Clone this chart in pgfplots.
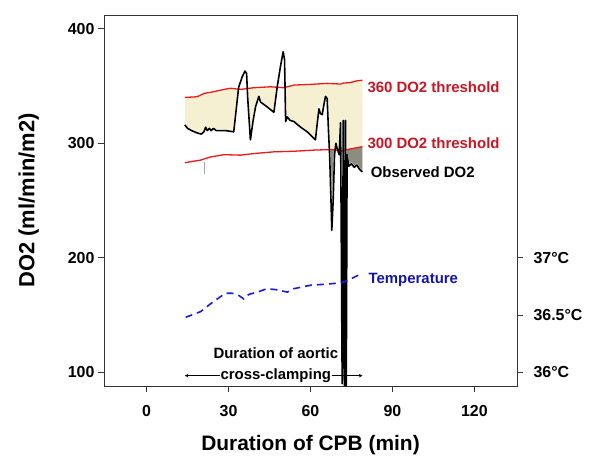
\documentclass[border=0pt]{standalone}
\usepackage{fontspec}
\setmainfont{Liberation Sans}
\usepackage{pgfplots}
\usepackage{pgfplotstable}
\pgfplotsset{compat=1.18}

\definecolor{cream}{RGB}{245,240,210}
\definecolor{greyfill}{RGB}{140,140,128}
\definecolor{thrred}{RGB}{235,25,25}
\definecolor{labred}{RGB}{205,20,35}
\definecolor{tblue}{RGB}{25,25,235}
\definecolor{labblue}{RGB}{20,20,170}

% Observed DO2 (ml/min/m2) vs duration of CPB (min)
\pgfplotstableread{
t v
14.0 316
15.0 313
16.5 311
18.5 309
20.0 308
21.0 310
21.6 314
22.2 311
23.0 313
23.6 311
24.5 313
25.5 311
27.0 311
29.0 311
31.9 310
33.7 349
35.0 358
36.0 363
36.6 361
37.0 340
38.0 303
39.0 320
39.9 332
41.1 341
41.7 336
44.0 332
46.6 327
47.8 349
49.0 367
50.0 380
50.5 373
50.9 319
51.5 323
52.5 320
53.9 319
56.4 314
58.8 310
61.8 303
62.5 318
63.1 330
63.6 326
64.3 325
65.0 335
65.5 341
66.1 339
66.6 310
67.0 290
67.5 250
67.8 224
68.3 250
68.8 290
69.3 300
69.7 296
70.5 290
71.0 318
71.6 90
72.0 320
72.4 88
72.8 320
73.1 88
73.4 290
74.0 280
75.0 282
76.0 279
77.0 281
78.0 277
79.0 275
}\dotable

% 360 DO2 threshold
\pgfplotstableread{
t v
14.0 340
18.5 340.6
21.0 343.5
24.6 345
28.3 347
30.7 348
34.4 347
39.3 348.5
45.4 349.3
50.2 348.5
53.9 350.8
60.0 351.4
66.1 352.3
71.0 351.7
72.0 352.5
74.6 353
76.5 354.3
79.0 355
}\thrhigh

% 300 DO2 threshold
\pgfplotstableread{
t v
14.0 283
19.8 285.3
23.4 288
28.3 290
34.4 289.6
39.3 291
46.6 292.5
53.9 293
61.2 294
68.5 294.6
71.0 293
72.2 294
74.6 295
79.0 297
}\thrlow

% Temperature (deg C)
\pgfplotstableread{
t T
14.3 36.48
19.8 36.53
24.6 36.62
28.9 36.69
31.3 36.69
33.8 36.67
35.6 36.64
37.4 36.68
40.5 36.70
44.1 36.73
47.8 36.72
51.5 36.70
53.9 36.73
60.0 36.76
66.1 36.77
71.0 36.78
73.4 36.80
77.7 36.85
}\temptable

\pgfplotsset{
  every tick label/.append style={font=\bfseries\fontsize{16}{16}\selectfont},
  /pgf/number format/assume math mode=true,
}

\begin{document}
\begin{tikzpicture}
\useasboundingbox (-104bp,-74bp) rectangle (488bp,386bp);
\begin{axis}[
  at={(0,0)}, anchor=south west,
  scale only axis, width=413bp, height=371bp,
  xmin=-15.6, xmax=135.6, ymin=88, ymax=412,
  xtick={0,30,60,90,120}, ytick={100,200,300,400},
  xtick pos=bottom, ytick pos=left,
  tick align=outside, major tick length=6bp,
  tick style={black!80, line width=0.8bp},
  axis line style={black!80, line width=0.8bp},
  xticklabel style={yshift=-10bp},
  axis on top,
  xlabel={\bfseries\fontsize{21}{21}\selectfont Duration of CPB (min)},
  ylabel={\bfseries\fontsize{22}{22}\selectfont DO2 (ml/min/m2)},
  xlabel style={yshift=-12bp},
  ylabel style={yshift=22bp},
]
% shaded areas
\addplot[fill=cream, draw=none] table[x=t,y=v] {\thrhigh} \closedcycle;
\addplot[fill=greyfill, draw=none] table[x=t,y=v] {\thrlow} \closedcycle;
\addplot[fill=white, draw=white, line width=2bp] table[x=t,y=v] {\dotable} \closedcycle;
% small grey mark
\addplot[gray!70, line width=0.8bp] coordinates {(21.2,283.5) (21.2,273.5)};
% threshold lines
\addplot[thrred, line width=1.3bp] table[x=t,y=v] {\thrhigh};
\addplot[thrred, line width=1.3bp] table[x=t,y=v] {\thrlow};
% labels
\node[anchor=west, text=labred, font=\bfseries\fontsize{15}{15}\selectfont, inner sep=0pt] at (axis cs:80.8,349) {360 DO2 threshold};
\node[anchor=west, text=labred, font=\bfseries\fontsize{15}{15}\selectfont, inner sep=0pt] at (axis cs:80.8,300) {300 DO2 threshold};
\node[anchor=west, text=black, font=\bfseries\fontsize{15}{15}\selectfont, inner sep=0pt] at (axis cs:82,275) {Observed DO2};
% cross-clamping arrow
\draw[<->, line width=0.6bp, >=stealth] (axis cs:14,97) -- (axis cs:79,97);
\node[fill=white, inner sep=1pt, font=\bfseries\fontsize{15}{15}\selectfont] at (axis cs:47.3,97) {cross-clamping};
\node[inner sep=0pt, font=\bfseries\fontsize{15}{15}\selectfont] at (axis cs:47.3,117) {Duration of aortic};
% observed DO2
\addplot[black, line width=1.6bp, line join=round] table[x=t,y=v] {\dotable};
\end{axis}

\begin{axis}[
  at={(0,0)}, anchor=south west,
  scale only axis, width=413bp, height=371bp,
  xmin=-15.6, xmax=135.6, ymin=35.88, ymax=39.12,
  hide x axis, axis y line*=right,
  ytick={36,36.5,37}, yticklabels={36°C,36.5°C,37°C},
  tick align=outside, major tick length=6bp,
  tick style={black!80, line width=0.8bp},
  axis line style={black!80, line width=0.8bp},
  yticklabel style={font=\bfseries\fontsize{16}{16}\selectfont, xshift=7bp},
]
\addplot[tblue, line width=1.6bp, dash pattern=on 7bp off 5bp] table[x=t,y=T] {\temptable};
\node[anchor=west, text=labblue, font=\bfseries\fontsize{15}{15}\selectfont, inner sep=0pt] at (axis cs:81.2,36.81) {Temperature};
\end{axis}
\end{tikzpicture}
\end{document}
